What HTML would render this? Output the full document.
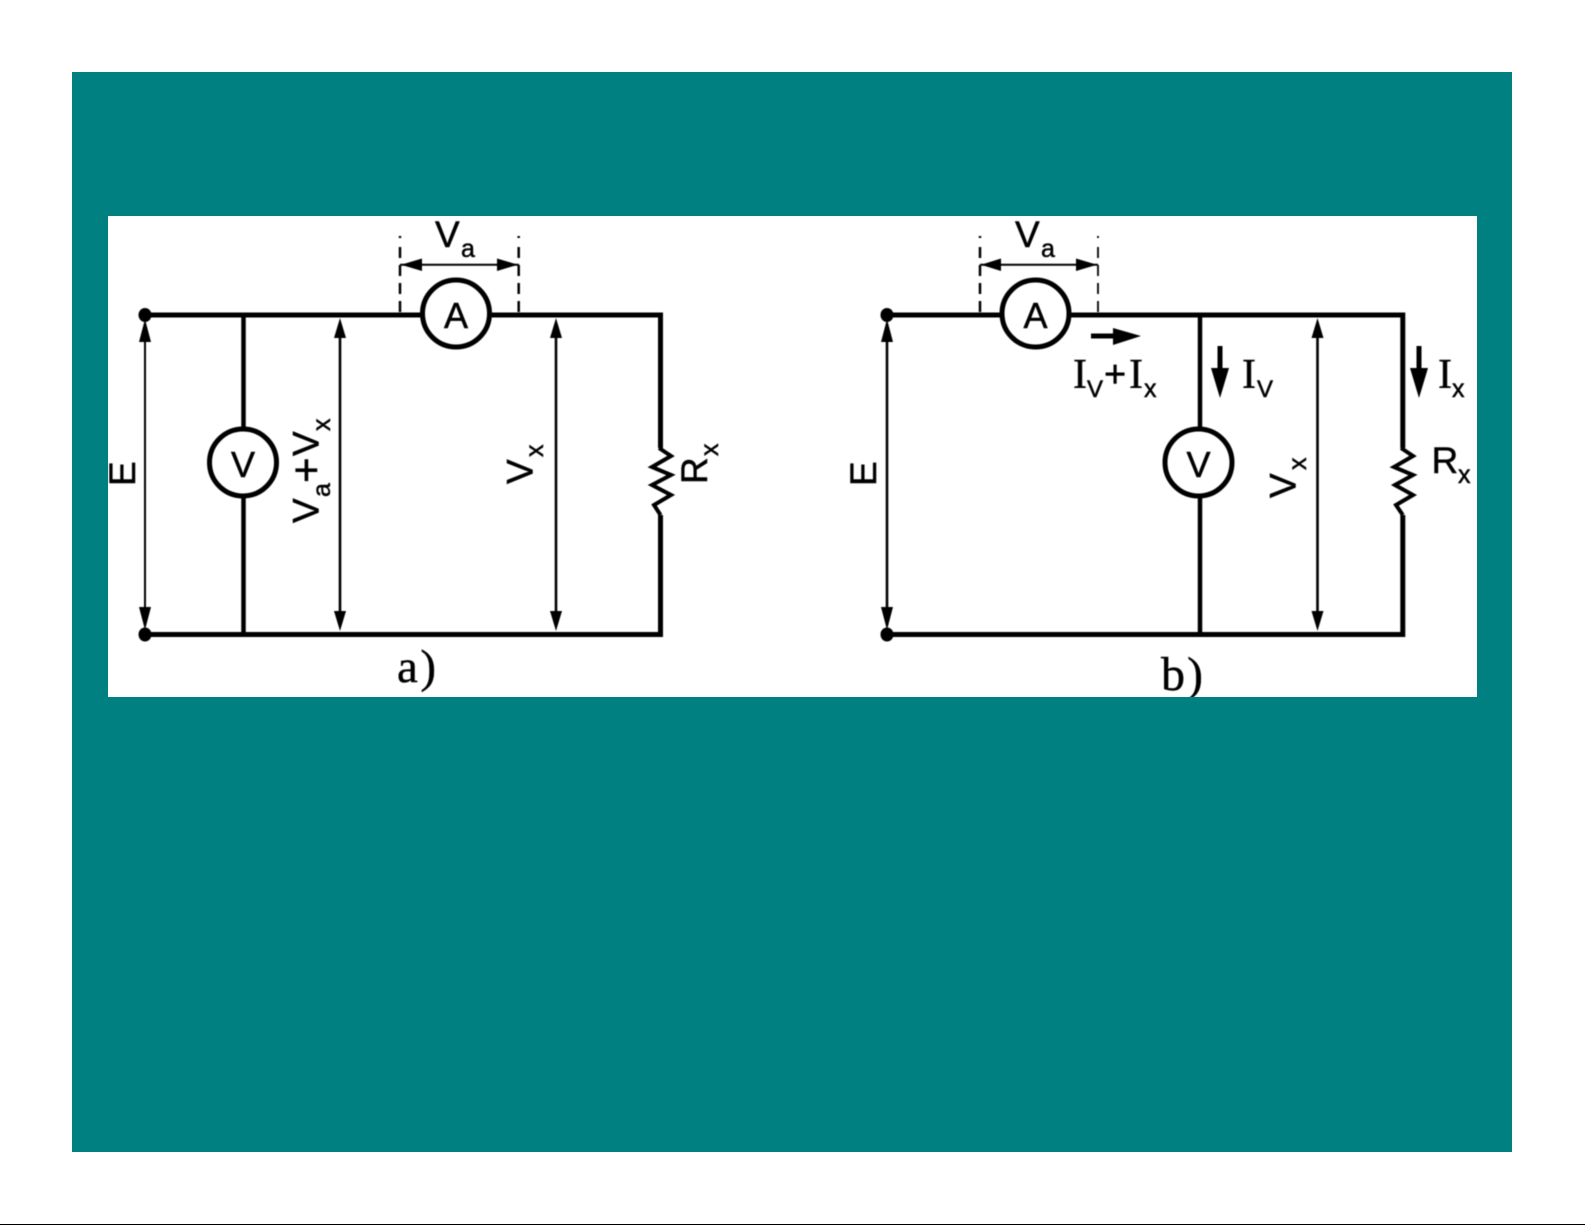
<!DOCTYPE html>
<html>
<head>
<meta charset="utf-8">
<style>
html,body{margin:0;padding:0;background:#fff;width:1585px;height:1225px;overflow:hidden}
svg{display:block;position:absolute;left:0;top:0}
.s{font-family:"Liberation Sans",sans-serif;fill:#000;stroke:#000;stroke-width:.5}
.r{font-family:"Liberation Serif",serif;fill:#000;stroke:#000;stroke-width:.4}
</style>
</head>
<body>
<svg width="1585" height="1225" viewBox="0 0 1585 1225" xmlns="http://www.w3.org/2000/svg">
<rect x="0" y="1224" width="1585" height="1" fill="#000"/>
<rect x="72" y="72" width="1440" height="1080" fill="#008080"/>
<rect x="108" y="216" width="1369" height="481" fill="#fff"/>

<g style="filter:blur(0.55px)">
<!-- circuit a -->
<g fill="none" stroke="#000" stroke-linejoin="miter">
  <path d="M145 315H660.5V448M660.5 515V634.5H145" stroke-width="5"/>
  <path d="M243.5 315V634.5" stroke-width="4.5"/>
  <path d="M659 448L671 456L652 467L671 475L652 485L671 495L654 505L660.5 515" stroke-width="4"/>
  <circle cx="456" cy="313.5" r="33.5" fill="#fff" stroke-width="5"/>
  <circle cx="243" cy="462.5" r="33.5" fill="#fff" stroke-width="5"/>
  <path d="M400 312V235M518.7 312V235" stroke-width="2.5" stroke-dasharray="11 7 11 7 11 7 11 9 2"/>
  <path d="M400 264.7H519" stroke-width="2"/>
  <path d="M145 325V625" stroke-width="2"/>
  <path d="M340 325V625" stroke-width="2.6"/>
  <path d="M556 325V625" stroke-width="2.6"/>
</g>
<g fill="#000">
  <ellipse cx="145" cy="315" rx="6.5" ry="7"/>
  <ellipse cx="145" cy="634.5" rx="6.5" ry="7"/>
  <path d="M401 264.7L422 258.5V271ZM518 264.7L497 258.5V271Z"/>
  <path d="M145 319L139 342H151ZM145 630L139 607H151Z"/>
  <path d="M340 318L334 338H346ZM340 631L334 611H346Z"/>
  <path d="M556 318L550 338H562ZM556 631L550 611H562Z"/>
</g>
<text class="s" x="435" y="247" font-size="37">V</text>
<text class="s" x="461" y="257" font-size="25">a</text>
<text class="s" x="444" y="328" font-size="36">A</text>
<text class="s" x="231" y="477" font-size="36">V</text>
<text class="s" transform="translate(135 486) rotate(-90)" font-size="37">E</text>
<text class="s" transform="translate(318.5 523) rotate(-90)" font-size="37">V</text>
<text class="s" transform="translate(330 497) rotate(-90)" font-size="25">a</text>
<text class="s" transform="translate(321 483) rotate(-90)" font-size="44">+</text>
<text class="s" transform="translate(318.5 456) rotate(-90)" font-size="37">V</text>
<text class="s" transform="translate(330 431) rotate(-90)" font-size="25">x</text>
<text class="s" transform="translate(532.5 484) rotate(-90)" font-size="37">V</text>
<text class="s" transform="translate(543 457) rotate(-90)" font-size="25">x</text>
<text class="s" transform="translate(707 484) rotate(-90)" font-size="37">R</text>
<text class="s" transform="translate(718 456) rotate(-90)" font-size="25">x</text>
<text class="r" x="397" y="682" font-size="47" letter-spacing="2.5">a)</text>

<!-- circuit b -->
<g fill="none" stroke="#000">
  <path d="M887 315H1402.8V448M1402.8 515V634.5H887" stroke-width="5"/>
  <path d="M1200 315V634.5" stroke-width="4.5"/>
  <path d="M1401 448L1413 456L1394 467L1413 475L1395 485L1413 495L1396 505L1402.8 515" stroke-width="4"/>
  <circle cx="1035.5" cy="313.5" r="33.5" fill="#fff" stroke-width="5"/>
  <circle cx="1198.5" cy="462.5" r="33.5" fill="#fff" stroke-width="5"/>
  <path d="M980 312V235" stroke-width="2.5" stroke-dasharray="11 7 11 7 11 7 11 9 2"/>
  <path d="M1098 312V235" stroke-width="1.8" stroke-dasharray="11 7 11 7 11 7 11 9 2"/>
  <path d="M980 264.7H1098" stroke-width="2"/>
  <path d="M887 325V625" stroke-width="2.6"/>
  <path d="M1317.5 325V625" stroke-width="2.6"/>
  <path d="M1091 336H1120" stroke-width="5"/>
  <path d="M1220 346V375" stroke-width="5"/>
  <path d="M1419 346V375" stroke-width="5"/>
</g>
<g fill="#000">
  <ellipse cx="887" cy="315" rx="6.5" ry="7"/>
  <ellipse cx="887" cy="634.5" rx="6.5" ry="7"/>
  <path d="M981 264.7L1001 258.5V271ZM1097 264.7L1076 258.5V271Z"/>
  <path d="M887 319L881 342H893ZM887 630L881 607H893Z"/>
  <path d="M1317.5 318L1311.5 338H1323.5ZM1317.5 631L1311.5 611H1323.5Z"/>
  <path d="M1141 336L1113 328V345Z"/>
  <path d="M1220 398L1211 368H1229Z"/>
  <path d="M1419 398L1410 368H1428Z"/>
</g>
<text class="s" x="1015" y="247" font-size="37">V</text>
<text class="s" x="1041" y="257" font-size="25">a</text>
<text class="s" x="1023.5" y="328" font-size="36">A</text>
<text class="s" x="1186.5" y="477" font-size="36">V</text>
<text class="s" transform="translate(876 486) rotate(-90)" font-size="37">E</text>
<text class="s" transform="translate(1295.5 498) rotate(-90)" font-size="37">V</text>
<text class="s" transform="translate(1306 470) rotate(-90)" font-size="25">x</text>
<text class="s" x="1431.5" y="473" font-size="37">R</text>
<text class="s" x="1458" y="483" font-size="25">x</text>
<text class="r" x="1073" y="388" font-size="42">I</text>
<text class="s" x="1087" y="397" font-size="24">V</text>
<text class="s" x="1104" y="387" font-size="38">+</text>
<text class="r" x="1129" y="388" font-size="42">I</text>
<text class="s" x="1144" y="397" font-size="25">x</text>
<text class="r" x="1242" y="388" font-size="42">I</text>
<text class="s" x="1257" y="397" font-size="24">V</text>
<text class="r" x="1438" y="388" font-size="42">I</text>
<text class="s" x="1452" y="397" font-size="25">x</text>
<text class="r" x="1161" y="690" font-size="48" letter-spacing="2">b)</text>
</g>
<rect x="108" y="697" width="1369" height="12" fill="#008080"/>
<rect x="72" y="216" width="36" height="481" fill="#008080"/>
</svg>
</body>
</html>
